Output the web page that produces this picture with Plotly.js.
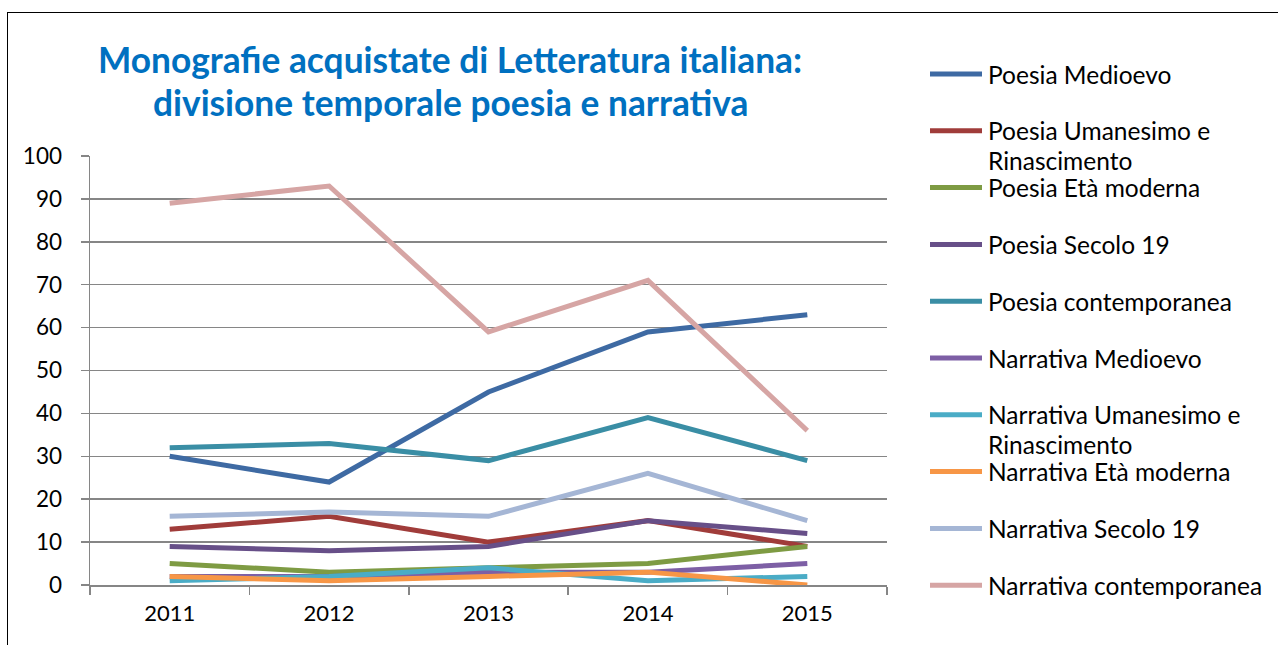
<!DOCTYPE html>
<html>
<head>
<meta charset="utf-8">
<script src="https://cdn.plot.ly/plotly-3.0.1.min.js"></script>
<style>
html,body{margin:0;padding:0;background:#fff;}
#frame{position:absolute;left:7px;top:12px;width:1280px;height:640px;border:1.5px solid #000;box-sizing:border-box;pointer-events:none;}
#chart{position:absolute;left:0;top:0;width:1278px;height:645px;}
</style>
</head>
<body>
<div id="chart"></div>
<div id="frame"></div>
<script>
const years = ['2011','2012','2013','2014','2015'];
const seriesNames = [
  'Poesia Medioevo',
  'Poesia Umanesimo e<br>Rinascimento',
  'Poesia Età moderna',
  'Poesia Secolo 19',
  'Poesia contemporanea',
  'Narrativa Medioevo',
  'Narrativa Umanesimo e<br>Rinascimento',
  'Narrativa Età moderna',
  'Narrativa Secolo 19',
  'Narrativa contemporanea'
];
const poesiaMedioevo = [30, 24, 45, 59, 63];
const poesiaUmanesimo = [13, 16, 10, 15, 9];
const poesiaEtaModerna = [5, 3, 4, 5, 9];
const poesiaSecolo19 = [9, 8, 9, 15, 12];
const poesiaContemporanea = [32, 33, 29, 39, 29];
const narrativaMedioevo = [2, 2, 3, 3, 5];
const narrativaUmanesimo = [1, 2, 4, 1, 2];
const narrativaEtaModerna = [2, 1, 2, 3, 0];
const narrativaSecolo19 = [16, 17, 16, 26, 15];
const narrativaContemporanea = [89, 93, 59, 71, 36];
const yTicks = [0,10,20,30,40,50,60,70,80,90,100];
const titleLines = ['Monografie acquistate di Letteratura italiana:', 'divisione temporale poesia e narrativa'];

const allValues = [poesiaMedioevo, poesiaUmanesimo, poesiaEtaModerna, poesiaSecolo19, poesiaContemporanea,
  narrativaMedioevo, narrativaUmanesimo, narrativaEtaModerna, narrativaSecolo19, narrativaContemporanea];
const colors = ['#3E6AA3','#A03C3A','#7E9B43','#674F88','#3A8EA5','#7D5FA5','#4AACC6','#F79646','#A5B6D5','#D6A5A4'];

const FONT = 'Lato, "Open Sans", sans-serif';
const W = 1278, H = 645;
const L = 90, R = 887, T = 156, B = 585;
const px2x = p => (p - L) / (R - L);
const py2y = p => (B - p) / (B - T);

const traces = allValues.map((v, i) => ({
  type: 'scatter', mode: 'lines', x: years, y: v,
  name: seriesNames[i].replace('<br>', ' '),
  line: {color: colors[i], width: 5, shape: 'linear'},
  showlegend: false, hoverinfo: 'x+y+name'
}));

const shapes = [];
const annotations = [];
// custom legend
const legTop = 74, legStep = 56.8;
seriesNames.forEach((n, i) => {
  const yc = legTop + i * legStep;
  shapes.push({type: 'line', xref: 'paper', yref: 'paper',
    x0: px2x(930), x1: px2x(982), y0: py2y(yc), y1: py2y(yc),
    line: {color: colors[i], width: 5}});
  n.split('<br>').forEach((part, k) => {
    annotations.push({xref: 'paper', yref: 'paper', x: px2x(986), y: py2y(yc + k * 30),
      xanchor: 'left', yanchor: 'middle', showarrow: false, text: part,
      font: {family: FONT, size: 24.5, color: '#000'}});
  });
});
// title lines
titleLines.forEach((t, k) => {
  annotations.push({xref: 'paper', yref: 'paper', x: px2x(450), y: py2y(59 + k * 43),
    xanchor: 'center', yanchor: 'middle', showarrow: false, text: '<b>' + t + '</b>',
    font: {family: FONT, size: 35.3, color: '#0070C0'}});
});

const layout = {
  width: W, height: H,
  margin: {l: L, r: W - R, t: T, b: H - B, pad: 0},
  paper_bgcolor: '#fff', plot_bgcolor: '#fff',
  showlegend: false,
  xaxis: {
    type: 'category', range: [-0.5, 4.5], tickson: 'boundaries',
    ticks: 'outside', ticklen: 8, tickcolor: '#868686', tickwidth: 1.5,
    showline: true, linecolor: '#868686', linewidth: 1.5,
    showgrid: false, zeroline: false,
    ticklabelstandoff: 8,
    tickfont: {family: FONT, size: 22, color: '#000'},
    fixedrange: true
  },
  yaxis: {
    range: [0, 100], tickvals: yTicks, ticktext: yTicks.map(String),
    ticks: 'outside', ticklen: 8, tickcolor: '#868686', tickwidth: 1.5,
    showline: true, linecolor: '#868686', linewidth: 1.5,
    showgrid: true, gridcolor: '#868686', gridwidth: 1.5,
    zeroline: false,
    ticklabelstandoff: 14,
    tickfont: {family: FONT, size: 22.5, color: '#000'},
    fixedrange: true
  },
  shapes: shapes,
  annotations: annotations
};

Plotly.newPlot('chart', traces, layout, {displayModeBar: false, staticPlot: true});
</script>
</body>
</html>
